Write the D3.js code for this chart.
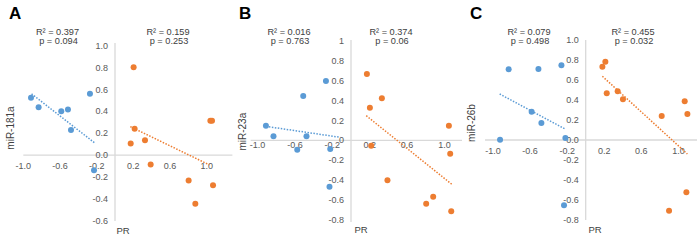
<!DOCTYPE html>
<html><head><meta charset="utf-8">
<script src="https://cdn.jsdelivr.net/npm/d3@7"></script>
<style>body{margin:0;background:#fff}svg{display:block;font-family:"Liberation Sans",Arial,sans-serif}</style>
</head><body><svg id="c" width="700" height="247"></svg>
<script>
// ---- data ----
const panelLetters = ["A", "B", "C"];
const yTitles = ["miR-181a", "miR-23a", "miR-26b"];
const xTitle = "PR";
const r2Blue = ["0.397", "0.016", "0.079"];
const pBlue = ["0.094", "0.763", "0.498"];
const r2Orange = ["0.159", "0.374", "0.455"];
const pOrange = ["0.253", "0.06", "0.032"];
const xTicks = [-1.0, -0.6, -0.2, 0.2, 0.6, 1.0];
const yTicksA = [1.0, 0.8, 0.6, 0.4, 0.2, 0.0, -0.2, -0.4, -0.6];
const yTicksB = [1, 0.8, 0.6, 0.4, 0.2, 0, -0.2, -0.4, -0.6, -0.8];
const yTicksC = [1.0, 0.8, 0.6, 0.4, 0.2, 0.0, -0.2, -0.4, -0.6, -0.8];

const aBlueX = [-0.916, -0.833, -0.586, -0.513, -0.480, -0.273, -0.229];
const aBlueY = [0.523, 0.438, 0.401, 0.416, 0.230, 0.560, -0.138];
const aOrangeX = [0.203, 0.214, 0.171, 0.327, 0.389, 1.040, 1.058, 0.803, 1.069, 0.876];
const aOrangeY = [0.803, 0.240, 0.106, 0.136, -0.086, 0.313, 0.313, -0.232, -0.275, -0.446];
const aTrendBlue = [[-0.91, 0.56], [-0.22, 0.11]];
const aTrendOrange = [[0.167, 0.26], [1.03, -0.09]];

const bBlueX = [-0.910, -0.829, -0.511, -0.476, -0.575, -0.268, -0.222, -0.230];
const bBlueY = [0.147, 0.040, 0.445, 0.040, -0.094, 0.595, -0.087, -0.466];
const bOrangeX = [0.170, 0.330, 0.202, 0.216, 0.390, 1.047, 1.061, 0.879, 0.804, 1.072];
const bOrangeY = [0.666, 0.422, 0.327, -0.054, -0.402, 0.147, -0.134, -0.566, -0.636, -0.713];
const bTrendBlue = [[-0.91, 0.14], [-0.115, 0.03]];
const bTrendOrange = [[0.163, 0.247], [1.079, -0.442]];

const cBlueX = [-0.831, -0.510, -0.262, -0.583, -0.478, -0.924, -0.219, -0.234];
const cBlueY = [0.707, 0.710, 0.747, 0.283, 0.170, 0.003, 0.020, -0.653];
const cOrangeX = [0.212, 0.180, 0.227, 0.345, 0.402, 0.820, 1.068, 1.097, 1.086, 0.899];
const cOrangeY = [0.783, 0.733, 0.467, 0.487, 0.407, 0.240, 0.387, 0.260, -0.523, -0.707];
const cTrendBlue = [[-0.928, 0.46], [-0.216, 0.107]];
const cTrendOrange = [[0.180, 0.637], [1.097, -0.14]];

// ---- layout ----
const BLUE = "#5B9BD5", ORANGE = "#ED7D31", AXIS = "#d9d9d9", TICK = "#595959", TXT = "#404040";
const layout = [
  {x0: 115, unit: 91.7, yTopV: 1.0, yTopP: 45.7, yBotV: -0.6, yBotP: 220.7, xAxis: [-1.0, 1.28], yLine: [43, 221], xLabDy: 14,
   yTitle: [10, 128], pr: [123, 231], sBlue: 57.5, sOrange: 168, letter: 9,
   yTicks: yTicksA, fmt: d => d.toFixed(1), bx: aBlueX, by: aBlueY, ox: aOrangeX, oy: aOrangeY, tb: aTrendBlue, to: aTrendOrange},
  {x0: 351, unit: 93.5, yTopV: 1, yTopP: 40.7, yBotV: -0.8, yBotP: 220, xAxis: [-1.073, 1.187], yLine: [40, 222], xLabDy: 7.5,
   yTitle: [242.3, 131.7], pr: [361, 229.3], sBlue: 289, sOrange: 391, letter: 239,
   yTicks: yTicksB, fmt: d => String(d), bx: bBlueX, by: bBlueY, ox: bOrangeX, oy: bOrangeY, tb: bTrendBlue, to: bTrendOrange},
  {x0: 585.7, unit: 92.7, yTopV: 1.0, yTopP: 40, yBotV: -0.8, yBotP: 220, xAxis: [-1.086, 1.201], yLine: [40, 220], xLabDy: 13.5,
   yTitle: [471, 123], pr: [595, 230], sBlue: 529, sOrange: 633, letter: 470,
   yTicks: yTicksC, fmt: d => d.toFixed(1), bx: cBlueX, by: cBlueY, ox: cOrangeX, oy: cOrangeY, tb: cTrendBlue, to: cTrendOrange}
];

const svg = d3.select("#c");

layout.forEach((L, i) => {
  const x = d3.scaleLinear().domain([-1, 1]).range([L.x0 - L.unit, L.x0 + L.unit]);
  const y = d3.scaleLinear().domain([L.yTopV, L.yBotV]).range([L.yTopP, L.yBotP]);
  const g = svg.append("g");

  // axis lines
  g.append("line").attr("x1", x(L.xAxis[0])).attr("x2", x(L.xAxis[1]))
    .attr("y1", y(0)).attr("y2", y(0)).attr("stroke", AXIS).attr("stroke-width", 1.3);
  g.append("line").attr("x1", x(0)).attr("x2", x(0))
    .attr("y1", L.yLine[0]).attr("y2", L.yLine[1]).attr("stroke", AXIS).attr("stroke-width", 1.3);

  // x tick labels
  g.selectAll(".xt").data(xTicks).join("text")
    .attr("x", d => x(d)).attr("y", y(0) + L.xLabDy)
    .attr("text-anchor", "middle").attr("font-size", 9).attr("fill", TICK)
    .text(d => d.toFixed(1));

  // y tick labels
  g.selectAll(".yt").data(L.yTicks).join("text")
    .attr("x", x(0) - 7).attr("y", d => y(d)).attr("dy", "0.35em")
    .attr("text-anchor", "end").attr("font-size", 9).attr("fill", TICK)
    .text(L.fmt);

  // trendlines
  const line = d3.line().x(d => x(d[0])).y(d => y(d[1]));
  g.append("path").attr("d", line(L.tb)).attr("fill", "none").attr("stroke", BLUE)
    .attr("stroke-width", 1.5).attr("stroke-dasharray", "1.5,1.5");
  g.append("path").attr("d", line(L.to)).attr("fill", "none").attr("stroke", ORANGE)
    .attr("stroke-width", 1.5).attr("stroke-dasharray", "1.5,1.5");

  // points
  g.selectAll(".b").data(L.bx.map((v, k) => [v, L.by[k]])).join("circle")
    .attr("cx", d => x(d[0])).attr("cy", d => y(d[1])).attr("r", 3).attr("fill", BLUE);
  g.selectAll(".o").data(L.ox.map((v, k) => [v, L.oy[k]])).join("circle")
    .attr("cx", d => x(d[0])).attr("cy", d => y(d[1])).attr("r", 3).attr("fill", ORANGE);

  // stats text
  [[L.sBlue, r2Blue[i], pBlue[i]], [L.sOrange, r2Orange[i], pOrange[i]]].forEach(s => {
    g.append("text").attr("x", s[0]).attr("y", 35).attr("text-anchor", "middle")
      .attr("font-size", 9.2).attr("fill", TXT).text("R² = " + s[1]);
    g.append("text").attr("x", s[0] + 1).attr("y", 44).attr("text-anchor", "middle")
      .attr("font-size", 9.2).attr("fill", TXT).text("p = " + s[2]);
  });

  // titles
  g.append("text").attr("transform", `translate(${L.yTitle[0]},${L.yTitle[1]}) rotate(-90)`)
    .attr("dy", "0.35em").attr("text-anchor", "middle").attr("font-size", 10).attr("fill", TXT)
    .text(yTitles[i]);
  g.append("text").attr("x", L.pr[0]).attr("y", L.pr[1]).attr("dy", "0.35em")
    .attr("text-anchor", "middle").attr("font-size", 9.5).attr("fill", TXT).text(xTitle);
  g.append("text").attr("x", L.letter).attr("y", 19).attr("font-size", 17)
    .attr("font-weight", "bold").attr("fill", "#000").text(panelLetters[i]);
});
</script></body></html>
